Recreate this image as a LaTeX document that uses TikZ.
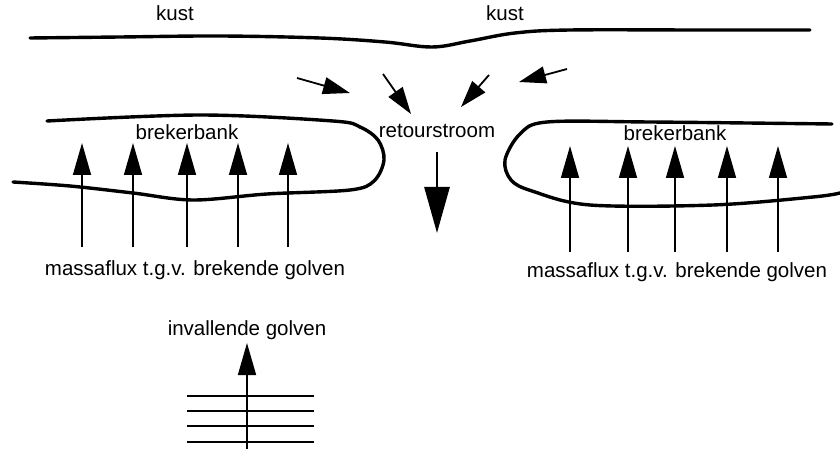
\documentclass[tikz,border=0pt]{standalone}
\usepackage{fontspec}
\setmainfont{Liberation Sans}
\usetikzlibrary{arrows.meta}
\begin{document}
\begin{tikzpicture}[x=1pt,y=-1pt,
  lbl/.style={font=\fontsize{20.5}{24}\selectfont, inner sep=0pt, anchor=center},
  outline/.style={line width=3.4pt, line cap=round, line join=round},
  flux/.style={line width=1.6pt, -{Triangle[length=32pt,width=18pt]}},
  inflow/.style={line width=1.8pt, -{Triangle[length=27pt,width=17pt]}},
  retour/.style={line width=2.8pt, -{Triangle[length=46pt,width=25pt]}},
  wave/.style={line width=1.6pt}]
\useasboundingbox (0,0) rectangle (840,449);
% coast
\draw[outline] plot[smooth, tension=0.6] coordinates {(30,38) (120,37) (220,36) (320,38) (385,42) (432,47) (470,41) (515,33) (570,30) (700,30) (810,30)};
\node[lbl] (kust1) at (175,13) {kust};
\node[lbl] (kust2) at (505,13) {kust};
% left bar
\draw[outline] plot[smooth, tension=0.55] coordinates {(13,182) (70,186) (133,193) (193,200) (267,194) (350,190) (374,181) (384,160) (378,140) (360,127) (333,121) (200,115) (47,121)};
% right bar
\draw[outline] plot[smooth, tension=0.55] coordinates {(832,124) (650,122) (547,122) (520,134) (505,160) (511,180) (532,191) (590,205) (713,205) (813,197) (840,193)};
\node[lbl] (bank1) at (187,132) {brekerbank};
\node[lbl] (bank2) at (675,133) {brekerbank};
\node[lbl] (retour) at (437,131) {retourstroom};
% inflow arrows
\coordinate (a1s) at (297,78); \coordinate (a1e) at (350,93);
\coordinate (a2s) at (383,74); \coordinate (a2e) at (411,114);
\coordinate (a3s) at (489,75); \coordinate (a3e) at (461,107);
\coordinate (a4s) at (567,69); \coordinate (a4e) at (519,82);
\draw[inflow] (a1s) -- (a1e);
\draw[inflow] (a2s) -- (a2e);
\draw[inflow] (a3s) -- (a3e);
\draw[inflow] (a4s) -- (a4e);
% rip current
\coordinate (rs) at (437,152); \coordinate (re) at (437,233);
\draw[retour] (rs) -- (re);
% flux arrows
\foreach \x [count=\i] in {82,133,187,238,288}{
  \coordinate (lf\i s) at (\x,247); \coordinate (lf\i e) at (\x,143);
  \draw[flux] (lf\i s) -- (lf\i e);
}
\foreach \x [count=\i] in {570,628,675,727,778}{
  \coordinate (rf\i s) at (\x,252); \coordinate (rf\i e) at (\x,146);
  \draw[flux] (rf\i s) -- (rf\i e);
}
\node[lbl] (mf1) at (195,270) {massaflux t.g.v. brekende golven};
\node[lbl] (mf2) at (677,272) {massaflux t.g.v. brekende golven};
% incoming waves
\node[lbl] (inv) at (247,330) {invallende golven};
\coordinate (ws) at (247,449); \coordinate (we) at (247,343);
\draw[flux] (ws) -- (we);
\foreach \y [count=\i] in {396,411,426,442}{
  \coordinate (wl\i) at (187,\y); \coordinate (wr\i) at (314,\y);
  \draw[wave] (wl\i) -- (wr\i);
}
\end{tikzpicture}
\end{document}
